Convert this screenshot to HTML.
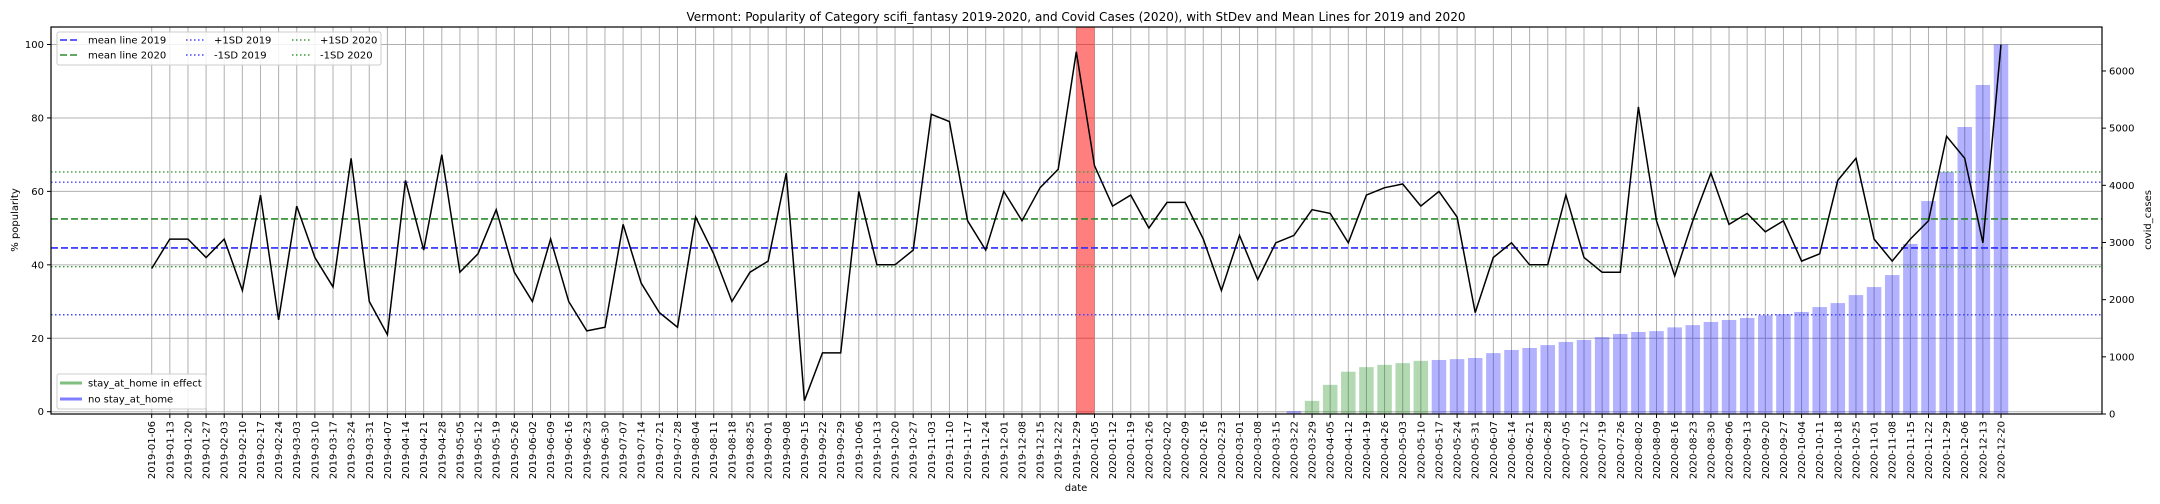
<!DOCTYPE html>
<html><head><meta charset="utf-8"><style>
html,body{margin:0;padding:0;background:#fff;}
svg{display:block;font-family:"DejaVu Sans","Liberation Sans",sans-serif;}
</style></head><body>
<svg id="chart" width="2160" height="504" viewBox="0 0 2160 504" xmlns="http://www.w3.org/2000/svg">
<rect width="2160" height="504" fill="#fff"/>
<text x="1076" y="21" text-anchor="middle" font-size="12" textLength="779" lengthAdjust="spacingAndGlyphs">Vermont: Popularity of Category scifi_fantasy 2019-2020, and Covid Cases (2020), with StDev and Mean Lines for 2019 and 2020</text>
<g id="grid"></g>
<g id="bars"></g>
<g id="span"></g>
<g id="hlines"></g>
<g id="line"></g>
<g id="axes"></g>
<g id="legends"></g>
</svg>
<script>
const popularity = [39,47,47,42,47,33,59,25,56,42,34,69,30,21,63,44,70,38,43,55,38,30,47,30,22,23,51,35,27,23,53,43,30,38,41,65,3,16,16,60,40,40,44,81,79,52,44,60,52,61,66,98,
67,56,59,50,57,57,47,33,48,36,46,48,55,54,46,59,61,62,56,60,53,27,42,46,40,40,59,42,38,38,83,52,37,52,65,51,54,49,52,41,43,63,69,47,41,47,52,75,69,46,100];
const covidCases = [0,0,0,0,0,0,0,0,0,0,10,50,230,510,740,820,860,890,930,945,960,980,1065,1120,1155,1205,1260,1295,1345,1400,1435,1450,1515,1555,1610,1645,1680,1725,1745,1785,1870,1940,2080,2220,2430,2975,3725,4235,5020,5755,6465];
const stayAtHome = [0,0,0,0,0,0,0,0,0,0,0,0,1,1,1,1,1,1,1,0,0,0,0,0,0,0,0,0,0,0,0,0,0,0,0,0,0,0,0,0,0,0,0,0,0,0,0,0,0,0,0];
const refValues = [44.6,52.5,62.5,26.4,65.3,39.5];
const yTicks = [0,20,40,60,80,100];
const y2Ticks = [0,1000,2000,3000,4000,5000,6000];

const NS="http://www.w3.org/2000/svg";
const L=51,R=2102,T=27,B=414;
const start=new Date(Date.UTC(2019,0,6));
function dateLabel(i){const d=new Date(start.getTime()+i*7*86400000);return d.toISOString().slice(0,10);}
const n=popularity.length;
function xs(i){return 151.7+(2001-151.7)/102*i;}
function ys(v){return 411.7-3.672*v;}
function ys2(v){return 414-0.05717*v;}
function mk(tag,attrs,parent){const e=document.createElementNS(NS,tag);for(const k in attrs)e.setAttribute(k,attrs[k]);parent.appendChild(e);return e;}
const g=id=>document.getElementById(id);

yTicks.forEach(v=>{const e=mk('line',{x1:L,x2:R,y1:ys(v),y2:ys(v),stroke:'#b0b0b0','stroke-width':1},g('grid'));

});
for(let i=0;i<n;i++){const e=mk('line',{x1:xs(i),x2:xs(i),y1:T,y2:B,stroke:'#b0b0b0','stroke-width':1},g('grid'));

}

const off=n-covidCases.length;
covidCases.forEach((v,j)=>{if(v<=0)return;const i=off+j;const y=ys2(v);
const e=mk('rect',{x:xs(i)-7.25,y:y,width:14.5,height:B-y,fill:stayAtHome[j]?'#008000':'#0000ff','fill-opacity':0.3},g('bars'));

});

{const e=mk('rect',{x:xs(51),y:T,width:xs(52)-xs(51),height:B-T,fill:'#ff0000','fill-opacity':0.5},g('span'));

}

const hl=[['mean-line-2019','#2b2bff','7,3',1.6],['mean-line-2020','#2e8b2e','7,3',1.6],['plus-1sd-2019','#4444ff','1.5,2.5',1.4],['minus-1sd-2019','#4444ff','1.5,2.5',1.4],['plus-1sd-2020','#3a9a3a','1.5,2.5',1.4],['minus-1sd-2020','#3a9a3a','1.5,2.5',1.4]];
refValues.forEach((v,k)=>{const e=mk('line',{x1:L,x2:R,y1:ys(v),y2:ys(v),stroke:hl[k][1],'stroke-dasharray':hl[k][2],'stroke-width':hl[k][3]},g('hlines'));

});

{const pts=popularity.map((v,i)=>xs(i).toFixed(1)+','+ys(v).toFixed(1)).join(' ');
const e=mk('polyline',{points:pts,fill:'none',stroke:'#000','stroke-width':1.5},g('line'));

}

const ax=g('axes');
{const e=mk('rect',{x:L,y:T,width:R-L,height:B-T,fill:'none',stroke:'#000','stroke-width':1.2},ax);

}
yTicks.forEach(v=>{mk('line',{x1:L-4,x2:L,y1:ys(v),y2:ys(v),stroke:'#000'},ax);
const t=mk('text',{x:L-7,y:ys(v)+3.5,'text-anchor':'end','font-size':10},ax);t.textContent=v;

});
y2Ticks.forEach(v=>{mk('line',{x1:R,x2:R+4,y1:ys2(v),y2:ys2(v),stroke:'#000'},ax);
const t=mk('text',{x:R+7,y:ys2(v)+3.5,'font-size':10},ax);t.textContent=v;

});
for(let i=0;i<n;i++){const x=xs(i);mk('line',{x1:x,x2:x,y1:B,y2:B+4,stroke:'#000'},ax);
const t=mk('text',{x:0,y:0,'text-anchor':'end','font-size':10,transform:`translate(${x+3.5},${B+7}) rotate(-90)`},ax);t.textContent=dateLabel(i);

}
{const t=mk('text',{x:1076,y:491,'text-anchor':'middle','font-size':10},ax);t.textContent='date';

}
{const t=mk('text',{x:0,y:0,'text-anchor':'middle','font-size':10,transform:'translate(18,220) rotate(-90)'},ax);t.textContent='% popularity';

}
{const t=mk('text',{x:0,y:0,'text-anchor':'middle','font-size':10,transform:'translate(2151,220) rotate(-90)'},ax);t.textContent='covid_cases';

}

const lg=g('legends');
{const e=mk('rect',{x:57,y:32,width:324,height:33,fill:'#fff','fill-opacity':0.85,stroke:'#ccc',rx:2},lg);

}
const legItems=[['mean line 2019',0,0],['mean line 2020',1,0],['+1SD 2019',2,1],['-1SD 2019',3,1],['+1SD 2020',4,2],['-1SD 2020',5,2]];
legItems.forEach((it,k)=>{const col=it[2];const row=k%2;const x0=[60,186,292][col];const y=40+row*15;
mk('line',{x1:x0,x2:x0+20,y1:y,y2:y,stroke:hl[it[1]][1],'stroke-dasharray':hl[it[1]][2],'stroke-width':hl[it[1]][3]},lg);
const t=mk('text',{x:x0+28,y:y+3.5,'font-size':10},lg);t.textContent=it[0];

});
{const e=mk('rect',{x:57,y:374,width:149,height:35,fill:'#fff','fill-opacity':0.85,stroke:'#ccc',rx:2},lg);

}
[['stay_at_home in effect','#7fbf7f'],['no stay_at_home','#7f7fff']].forEach((it,k)=>{const y=383+k*16;
mk('line',{x1:60,x2:82,y1:y,y2:y,stroke:it[1],'stroke-width':3},lg);
const t=mk('text',{x:88,y:y+3.5,'font-size':10},lg);t.textContent=it[0];

});
</script>
</body></html>
